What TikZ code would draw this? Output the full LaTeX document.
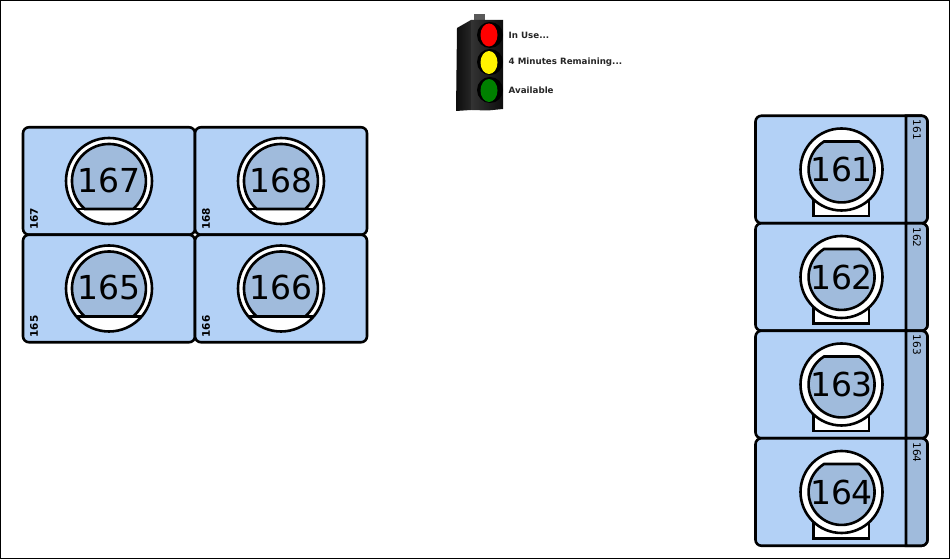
\documentclass[tikz,border=0pt]{standalone}
\usepackage{fontspec}
\setmainfont{DejaVu Sans}
\usetikzlibrary{positioning}
\definecolor{cardblue}{HTML}{B3D1F6}
\definecolor{dialblue}{HTML}{A0BBDC}
\tikzstyle{card} = [
  draw,
  line width=2.6pt,
  rectangle,
  rounded corners=6pt,
  fill=cardblue,
  outer sep=0pt,
  minimum width=172pt,
  minimum height=107.5pt,
]
\tikzstyle{ring} = [
  draw,
  line width=2.6pt,
  fill=white,
]
\tikzstyle{dial} = [
  draw,
  line width=2.6pt,
  fill=dialblue,
]
\tikzstyle{number} = [
  inner sep=0pt,
  font=\fontsize{33}{34}\selectfont,
]
\tikzstyle{seat} = [
  inner sep=0pt,
  font=\fontsize{10.5}{11}\selectfont,
]
\tikzstyle{legend} = [
  anchor=west,
  inner sep=0pt,
  font=\fontsize{8.7}{9}\selectfont\bfseries,
  text=black!85,
]
% dial of a card in the left block
\newcommand{\leftdial}[2]{
  \begin{scope}[shift={(#1.center)}]
    \draw[ring] (0,0) circle (43);
    \draw[dial] (-24.2,-28) arc (229.2:-49.2:37) -- cycle;
    \draw[line width=2.6pt] (-32.6,-28) -- (32.6,-28);
    \node[number] (num#2) at (0,1) {#2};
    \node[seat,rotate=90] (seat#2) at (-75,-38) {\bfseries #2};
  \end{scope}
}
% dial and side tab of a card in the right block
\newcommand{\rightdial}[2]{
  \begin{scope}[shift={(#1.center)}]
    \draw[dial] (64.5,53.75) [rounded corners=6pt] -- (86,53.75) -- (86,-53.75)
      [sharp corners] -- (64.5,-53.75) -- cycle;
    \draw[ring] (-28,-46.5) rectangle (27.5,-20);
    \draw[ring] (0,0) circle (41);
    \draw[dial] (17.6,28) arc (57.9:57.9-295.8:33) -- cycle;
    \node[number] (num#2) at (0,0) {#2};
    \node[seat,rotate=-90] (seat#2) at (75.5,39.5) {#2};
  \end{scope}
}

\begin{document}
\begin{tikzpicture}[
    x=1pt,
    y=1pt,
  ]
  \useasboundingbox (0,0) rectangle (950,559);
  \draw[line width=1pt] (0.5,0.5) rectangle (949.5,558.5);
  % left block
  \node[card] (card167) at (109,378) {};
  \node[card,right=0pt of card167] (card168) {};
  \node[card,below=0pt of card167] (card165) {};
  \node[card,right=0pt of card165] (card166) {};
  \leftdial{card167}{167}
  \leftdial{card168}{168}
  \leftdial{card165}{165}
  \leftdial{card166}{166}
  % right block
  \node[card] (card161) at (841.5,389.5) {};
  \node[card,below=0pt of card161] (card162) {};
  \node[card,below=0pt of card162] (card163) {};
  \node[card,below=0pt of card163] (card164) {};
  \rightdial{card161}{161}
  \rightdial{card162}{162}
  \rightdial{card163}{163}
  \rightdial{card164}{164}
  % traffic light
  \fill[black!65] (474,545) rectangle (485,535);
  \shade[left color=black!95,right color=black!85]
    (457,531) -- (471,539) -- (471,449) -- (456,448) -- cycle;
  \shade[left color=black!80,right color=black!95]
    (471,539) -- (503,539) -- (503,450) -- (488,448.5) -- (471,449) -- cycle;
  \fill[black] (490,524) circle (13) (490,497) circle (13) (490,469) circle (13);
  \fill[red] (489,524) ellipse (8.5 and 11.5);
  \fill[yellow] (489,496.5) ellipse (8.5 and 11.5);
  \fill[green!50!black] (489,468.5) ellipse (8.5 and 11.5);
  \node[legend] (inuse) at (508.5,523.5) {In Use...};
  \node[legend] (remaining) at (508.5,496.5) {4 Minutes Remaining...};
  \node[legend] (available) at (508.5,469) {Available};
\end{tikzpicture}
\end{document}
